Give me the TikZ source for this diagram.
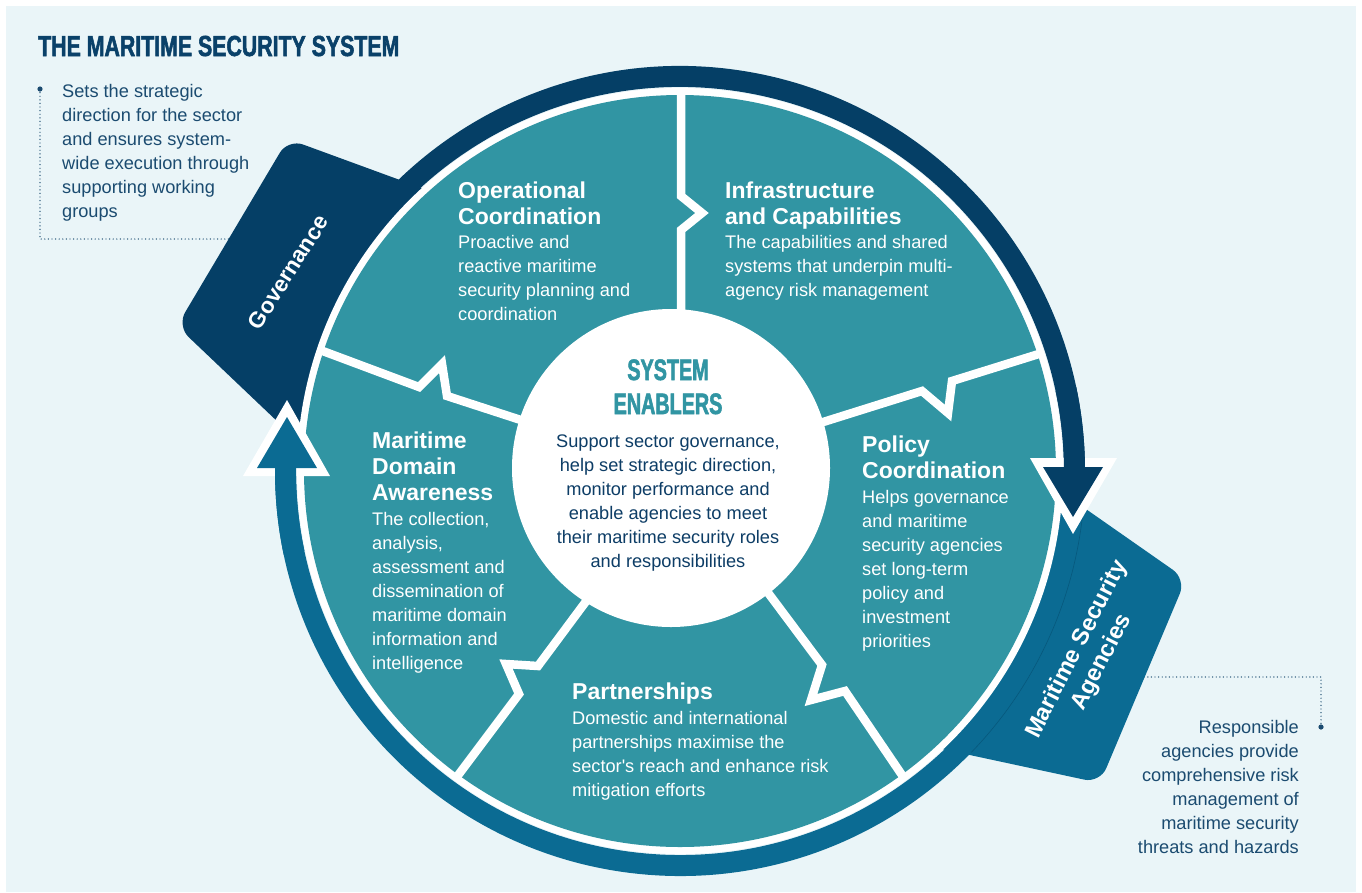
\documentclass[tikz,border=0pt]{standalone}
\usepackage{fontspec}
\setmainfont{Liberation Sans}
\newfontfamily\titlefont{Liberation Sans}[FakeStretch=0.735,FakeBold=1.8]
\newfontfamily\enablefont{Liberation Sans}[FakeStretch=0.67,FakeBold=1.8]
\definecolor{bgc}{HTML}{EAF5F8}
\definecolor{navyc}{HTML}{053F66}
\definecolor{bluec}{HTML}{0B6B93}
\definecolor{tealc}{HTML}{3195A3}
\definecolor{notec}{HTML}{1B4B70}
\definecolor{titlec}{HTML}{0A4169}
\definecolor{seamc}{HTML}{07587C}
\definecolor{centerc}{HTML}{0D3D66}
\newcommand\llines[1]{\begin{tabular}[t]{@{}l@{}}#1\end{tabular}}
\newcommand\rlines[1]{\begin{tabular}[t]{@{}r@{}}#1\end{tabular}}
\newcommand\clines[1]{\begin{tabular}[t]{@{}c@{}}#1\end{tabular}}
\tikzset{
  body/.style={inner sep=0pt, text=white, font=\fontsize{18.2}{24}\selectfont, anchor=base west},
  segtitle/.style={inner sep=0pt, text=white, font=\bfseries\fontsize{23}{26}\selectfont, anchor=base west},
  note/.style={inner sep=0pt, text=notec, font=\fontsize{18.2}{24}\selectfont},
  dotline/.style={notec, line width=1.4pt, line cap=round, dash pattern=on 0pt off 3.6pt},
  divider/.style={white, line width=8.5pt, line join=miter, miter limit=20},
  ring/.style={line width=21pt},
  enabler/.style={inner sep=0pt, anchor=base, text=tealc, font=\enablefont\bfseries\fontsize{29.5}{32}\selectfont},
  tablabel/.style={inner sep=0pt, text=white},
}
\begin{document}
\begin{tikzpicture}[x=1pt,y=-1pt]
\useasboundingbox (0,0) rectangle (1362,892);
\fill[white] (0,0) rectangle (1362,892);
\fill[bgc] (6,6) rectangle (1356,892);
\coordinate (C) at (680,471);
\coordinate (E) at (671,468);

% note connectors
\coordinate (g0) at (40,89);
\coordinate (g1) at (40,239);
\coordinate (g2) at (245,239);
\draw[dotline] (g0) -- (g1) -- (g2);
\fill[notec] (g0) circle[radius=2.6];
\coordinate (m0) at (1321,727);
\coordinate (m1) at (1321,677);
\coordinate (m2) at (1130,677);
\draw[dotline] (m0) -- (m1) -- (m2);
\fill[notec] (m0) circle[radius=2.6];

% tabs
\fill[navyc, rounded corners=16pt] (460,202) -- (288,139) -- (177,326) -- (320,462) -- cycle;
\fill[bluec, rounded corners=16pt] (1010,456) -- (1186,579) -- (1100,783) -- (900,740) -- cycle;

% rings
\draw[navyc, ring] (C) ++(195:394.5) arc[start angle=195, end angle=359.5, radius=394.5];
\draw[bluec, ring] (C) ++(6:394.5) arc[start angle=6, end angle=180.8, radius=394.5];
\draw[seamc, line width=0.6pt] (C) ++(6.5:405) arc[start angle=6.5, end angle=44, radius=405];

% disk
\fill[white] (C) circle[radius=383];
\fill[tealc] (C) circle[radius=376];

% arrowheads
\fill[white] (1030,458) -- (1117,458) -- (1073,534) -- cycle;
\draw[navyc, ring] (C) ++(348:394.5) arc[start angle=348, end angle=360.5, radius=394.5];
\fill[navyc] (1043,467) -- (1103,467) -- (1073,517) -- cycle;
\fill[white] (243,476) -- (330,476) -- (287,400) -- cycle;
\draw[bluec, ring] (C) ++(168:394.5) arc[start angle=168, end angle=180.8, radius=394.5];
\fill[bluec] (257,468) -- (317,468) -- (287,417) -- cycle;

% dividers
\draw[divider] (681,91) -- (681,196) -- (702,213) -- (681,230) -- (681,320);
\draw[divider] (320,350) -- (419,387) -- (442,364) -- (447,396) -- (530,423);
\draw[divider] (1042,353) -- (952,381) -- (948,413) -- (922,391) -- (820,423);
\draw[divider] (766,590) -- (822,665) -- (811,700) -- (845,691) -- (904,778);
\draw[divider] (590,596) -- (538,666) -- (506,664) -- (519,694) -- (456,778);

% centre
\fill[white] (E) circle[radius=159];

% title
\node[anchor=base west, inner sep=0pt, text=titlec, font=\titlefont\bfseries\fontsize{29}{32}\selectfont] (title) at (38,56) {THE MARITIME SECURITY SYSTEM};

% notes
\node[note, anchor=base west] (gnote) at (62,97) {\llines{Sets the strategic\\direction for the sector\\and ensures system-\\wide execution through\\supporting working\\groups}};
\node[note, anchor=base east] (mnote) at (1299,733) {\rlines{Responsible\\agencies provide\\comprehensive risk\\management of\\maritime security\\threats and hazards}};

% tab labels
\node[tablabel, font=\bfseries\fontsize{22.5}{27}\selectfont] (gov) at (288,272) {\rotatebox{57.5}{Governance}};
\node[tablabel, font=\bfseries\fontsize{23.5}{28}\selectfont] (msa) at (1090,656) {\rotatebox{63}{\clines{Maritime Security\\Agencies}}};

% segments
\node[segtitle] (opT) at (458,198) {\llines{Operational\\Coordination}};
\node[body] (opB) at (458,248) {\llines{Proactive and\\reactive maritime\\security planning and\\coordination}};
\node[segtitle] (inT) at (725,198) {\llines{Infrastructure\\and Capabilities}};
\node[body] (inB) at (725,248) {\llines{The capabilities and shared\\systems that underpin multi-\\agency risk management}};
\node[segtitle] (mdT) at (372,448) {\llines{Maritime\\Domain\\Awareness}};
\node[body] (mdB) at (372,525) {\llines{The collection,\\analysis,\\assessment and\\dissemination of\\maritime domain\\information and\\intelligence}};
\node[segtitle] (poT) at (862,452) {\llines{Policy\\Coordination}};
\node[body] (poB) at (862,503) {\llines{Helps governance\\and maritime\\security agencies\\set long-term\\policy and\\investment\\priorities}};
\node[segtitle] (paT) at (572,699) {\llines{Partnerships}};
\node[body] (paB) at (572,724) {\llines{Domestic and international\\partnerships maximise the\\sector\textquotesingle s reach and enhance risk\\mitigation efforts}};

% centre text
\node[enabler] (en1) at (668,380) {SYSTEM};
\node[enabler] (en2) at (668,414) {ENABLERS};
\node[inner sep=0pt, anchor=base, text=centerc, font=\fontsize{18.2}{24}\selectfont] (cb) at (668,447) {\clines{Support sector governance,\\help set strategic direction,\\monitor performance and\\enable agencies to meet\\their maritime security roles\\and responsibilities}};
\end{tikzpicture}
\end{document}
